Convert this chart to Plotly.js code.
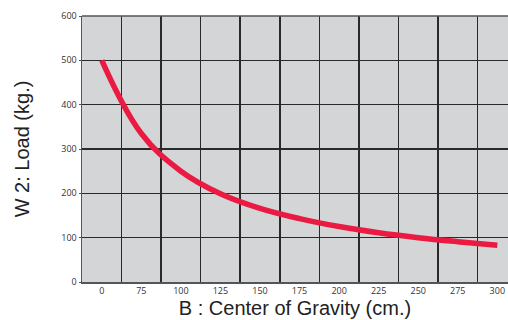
<!DOCTYPE html>
<html>
<head>
<meta charset="utf-8">
<script src="https://cdn.plot.ly/plotly-3.0.1.min.js"></script>
<style>html,body{margin:0;padding:0;background:#fff;}#chart{width:508px;height:320px;}</style>
</head>
<body>
<div id="chart"></div>
<script>
// Tick labels of the x axis (centre of gravity, cm)
const xLabels = ['0','75','100','125','150','175','200','225','250','275','300'];
// Load (kg) read at each labelled position
const loadKg = [500, 335, 250, 199, 166, 143, 125, 111, 100, 91, 83];
const yTicks = [0, 100, 200, 300, 400, 500, 600];

const xIdx = xLabels.map((_, i) => i);

const trace = {
  x: xIdx,
  y: loadKg,
  type: 'scatter',
  mode: 'lines',
  line: {color: '#ea1a42', width: 5.5, shape: 'spline', smoothing: 1.1},
  hoverinfo: 'skip'
};

const layout = {
  width: 508, height: 320,
  margin: {l: 82, r: 0, t: 16, b: 38},
  paper_bgcolor: '#ffffff',
  plot_bgcolor: '#d4d5d7',
  showlegend: false,
  font: {family: 'Arial, "Liberation Sans", sans-serif', color: '#222'},
  xaxis: {
    range: [-0.5, 10.27],
    tickmode: 'array',
    tickvals: xIdx,
    ticktext: xLabels,
    showgrid: false,
    ticks: '',
    tickfont: {size: 9, color: '#333', family: '"Open Sans", Arial, sans-serif'},
    showline: true, linecolor: '#555', linewidth: 1.5,
    zeroline: false,
    minor: {tickmode: 'array', tickvals: xIdx.map(i => i + 0.5), showgrid: true, gridcolor: '#2a2a2a', gridwidth: 1.5, ticks: ''},
    title: {text: 'B : Center of Gravity (cm.)', font: {size: 20, color: '#222'}, standoff: 3},
    fixedrange: true
  },
  yaxis: {
    range: [0, 600],
    tickmode: 'array',
    tickvals: yTicks,
    showgrid: true, gridcolor: '#2a2a2a', gridwidth: 1.5,
    ticks: 'outside', ticklen: 2, tickcolor: '#555',
    tickfont: {size: 9, color: '#333', family: '"Open Sans", Arial, sans-serif'},
    showline: true, linecolor: '#555', linewidth: 1.5,
    zeroline: false,
    title: {text: 'W 2: Load (kg.)', font: {size: 20, color: '#222'}, standoff: 26},
    fixedrange: true
  },
  shapes: [{type: 'line', xref: 'paper', yref: 'paper', x0: 0, x1: 1, y0: 1, y1: 1, line: {color: '#555', width: 1.5}}]
};

Plotly.newPlot('chart', [trace], layout, {displayModeBar: false, staticPlot: true});
</script>
</body>
</html>
